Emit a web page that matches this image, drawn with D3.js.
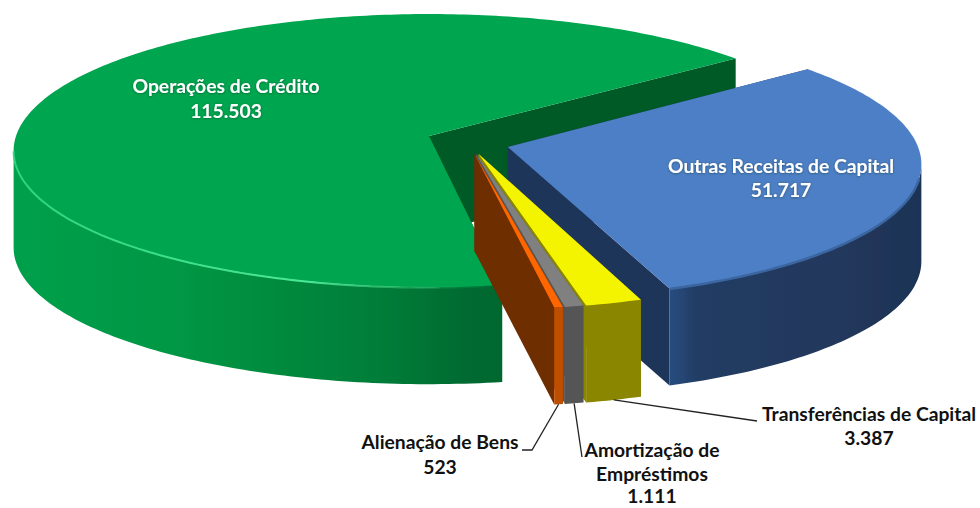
<!DOCTYPE html>
<html><head><meta charset="utf-8">
<style>html,body{margin:0;padding:0;background:#fff}svg{display:block}</style>
<script src="https://cdn.jsdelivr.net/npm/d3@7/dist/d3.min.js"></script>
</head><body><svg id="c" width="980" height="508"></svg>
<script>
// Data
const categories = ["Outras Receitas de Capital","Transferências de Capital","Amortização de Empréstimos","Alienação de Bens","Operações de Crédito"];
const values = [51717,3387,1111,523,115503];
const valueLabels = ["51.717","3.387","1.111","523","115.503"];
// Styles, per slice
const topColors = ["#4d7fc6","#f4f400","#808080","#ff6600","#00a650"];
const outerColors = ["#20375a","#8a8600","#555555","#bf4f00","#00803c"];
const innerColors = ["#1f3558","#8a8600","#555555","#6e2e00","#005a27"];
// Layout: explosion (unit-circle) and radius factor per slice
const explodeU = [0.189,0.1185,0.1125,0.1085,0];
const explodeV = [0.08,0.131,0.131,0.131,0];
const radiusF = [0.985,1,1,1,1];
const drawOrder = [4,0,1,2,3];
const firstAngle = 52.3*Math.PI/180, persp = 0.107, depth = 97;

const svg = d3.select("#c");
const defs = svg.append("defs");
function grad(id,x1,x2,stops){
  const g = defs.append("linearGradient").attr("id",id).attr("gradientUnits","userSpaceOnUse")
    .attr("x1",x1).attr("x2",x2).attr("y1",0).attr("y2",0);
  stops.forEach(s=>g.append("stop").attr("offset",s[0]).attr("stop-color",s[1]).attr("stop-opacity",s[2]===undefined?1:s[2]));
}
grad("gw",13,503,[[0,"#00a04c"],[0.35,"#009644"],[0.5,"#008d3f"],[0.75,"#007d39"],[0.93,"#006a30"],[1,"#00682f"]]);
grad("bw",672,925,[[0,"#284c7e"],[0.1,"#223c63"],[0.8,"#203659"],[1,"#1d3355"]]);
grad("gh",13,503,[[0,"#30d880",0.9],[0.6,"#4ce896",1],[0.78,"#30c070",0.7],[1,"#00a650",0]]);
const filt = defs.append("filter").attr("id","soft").attr("x","-5%").attr("y","-5%").attr("width","110%").attr("height","110%");
filt.append("feGaussianBlur").attr("stdDeviation",0.5);
const halo = defs.append("filter").attr("id","halo").attr("x","-10%").attr("y","-30%").attr("width","120%").attr("height","160%");
halo.append("feDropShadow").attr("dx",0).attr("dy",0.5).attr("stdDeviation",1.2).attr("flood-color","#103020").attr("flood-opacity",0.55);

const x = d3.scaleLinear().domain([-1,1]).range([429-413,429+413]);
const y = d3.scaleLinear().domain([-1,1]).range([136-135,136+135]);
const pie = d3.pie().sort(null).startAngle(firstAngle).endAngle(firstAngle+2*Math.PI);
const arcs = pie(values);

function proj(i,r,a,z){
  const u = explodeU[i]+r*radiusF[i]*Math.sin(a), v = explodeV[i]-r*radiusF[i]*Math.cos(a);
  const k = 1/(1-persp*v);
  return [x(u*k), y(v*k)+(z||0)];
}
const line = d3.line();
const arcPts = (i,a0,a1,z)=>{
  const n = Math.max(2,Math.ceil(Math.abs(a1-a0)*60));
  return d3.range(n+1).map(j=>proj(i,1,a0+(a1-a0)*j/n,z));
};
// part of the rim that faces the viewer: x runs right-to-left while the angle grows
function frontRange(i,a0,a1){
  const n = 720; let lo=null, hi=null;
  for(let j=0;j<n;j++){
    const s=a0+(a1-a0)*j/n, e=a0+(a1-a0)*(j+1)/n;
    if(proj(i,1,e)[0]<proj(i,1,s)[0]){ if(lo===null) lo=s; hi=e; } else if(lo!==null) break;
  }
  return [lo,hi];
}
const root = svg.append("g").attr("filter","url(#soft)");
const wallFill = ["url(#bw)",null,null,null,"url(#gw)"];
drawOrder.forEach(i=>{
  const d = arcs[i];
  const g = root.append("g");
  const edge = a=>[proj(i,0,a,0),proj(i,1,a,0),proj(i,1,a,depth),proj(i,0,a,depth)];
  g.append("path").attr("d",line(edge(d.startAngle))+"Z").attr("fill",innerColors[i]);
  g.append("path").attr("d",line(edge(d.endAngle))+"Z").attr("fill",innerColors[i]);
  const [f0,f1] = frontRange(i,d.startAngle,d.endAngle);
  g.append("path").attr("d",line(arcPts(i,f0,f1,0).concat(arcPts(i,f1,f0,depth)))+"Z")
    .attr("fill",wallFill[i]||outerColors[i]);
  g.append("path").attr("d",line([proj(i,0,d.startAngle)].concat(arcPts(i,d.startAngle,d.endAngle,0)))+"Z")
    .attr("fill",topColors[i]);
  if(i===4) g.append("path").attr("d",line(arcPts(4,d.startAngle,f1,0.5)))
    .attr("fill","none").attr("stroke","url(#gh)").attr("stroke-width",2);
  if(i===0) g.append("path").attr("d",line(arcPts(0,f0+0.1,f1,0.5)))
    .attr("fill","none").attr("stroke","#3a669f").attr("stroke-width",2.5);
});

// Leader lines
const leaderEnds = [null,[[757,421]],[[582,457]],[[532,450],[522,450]],null];
arcs.forEach((d,i)=>{
  if(!leaderEnds[i]) return;
  const s = proj(i,1,(d.startAngle+d.endAngle)/2,depth);
  svg.append("path").attr("d",line([s].concat(leaderEnds[i]))).attr("fill","none")
    .attr("stroke","#222").attr("stroke-width",1.3);
});

// Labels
const labelRows = [
 {i:0,cx:781,ys:[173,197],lines:["Outras Receitas de Capital"],fill:"#fff"},
 {i:1,cx:869,ys:[421,445],lines:["Transferências de Capital"],fill:"#111"},
 {i:2,cx:652,ys:[457,481,503],lines:["Amortização de","Empréstimos"],fill:"#111"},
 {i:3,cx:440,ys:[449,474],lines:["Alienação de Bens"],fill:"#111"},
 {i:4,cx:226,ys:[93,118],lines:["Operações de Crédito"],fill:"#fff"}
];
labelRows.forEach(l=>{
  l.lines.concat([valueLabels[l.i]]).forEach((t,j)=>{
    const e = svg.append("text").attr("x",l.cx).attr("y",l.ys[j]).attr("text-anchor","middle")
      .attr("font-family","Lato, 'Open Sans', sans-serif").attr("font-weight",700).attr("font-size",19.3)
      .attr("fill",l.fill).text(t);
    if(l.fill==="#fff") e.attr("filter","url(#halo)");
  });
});
</script></body></html>
